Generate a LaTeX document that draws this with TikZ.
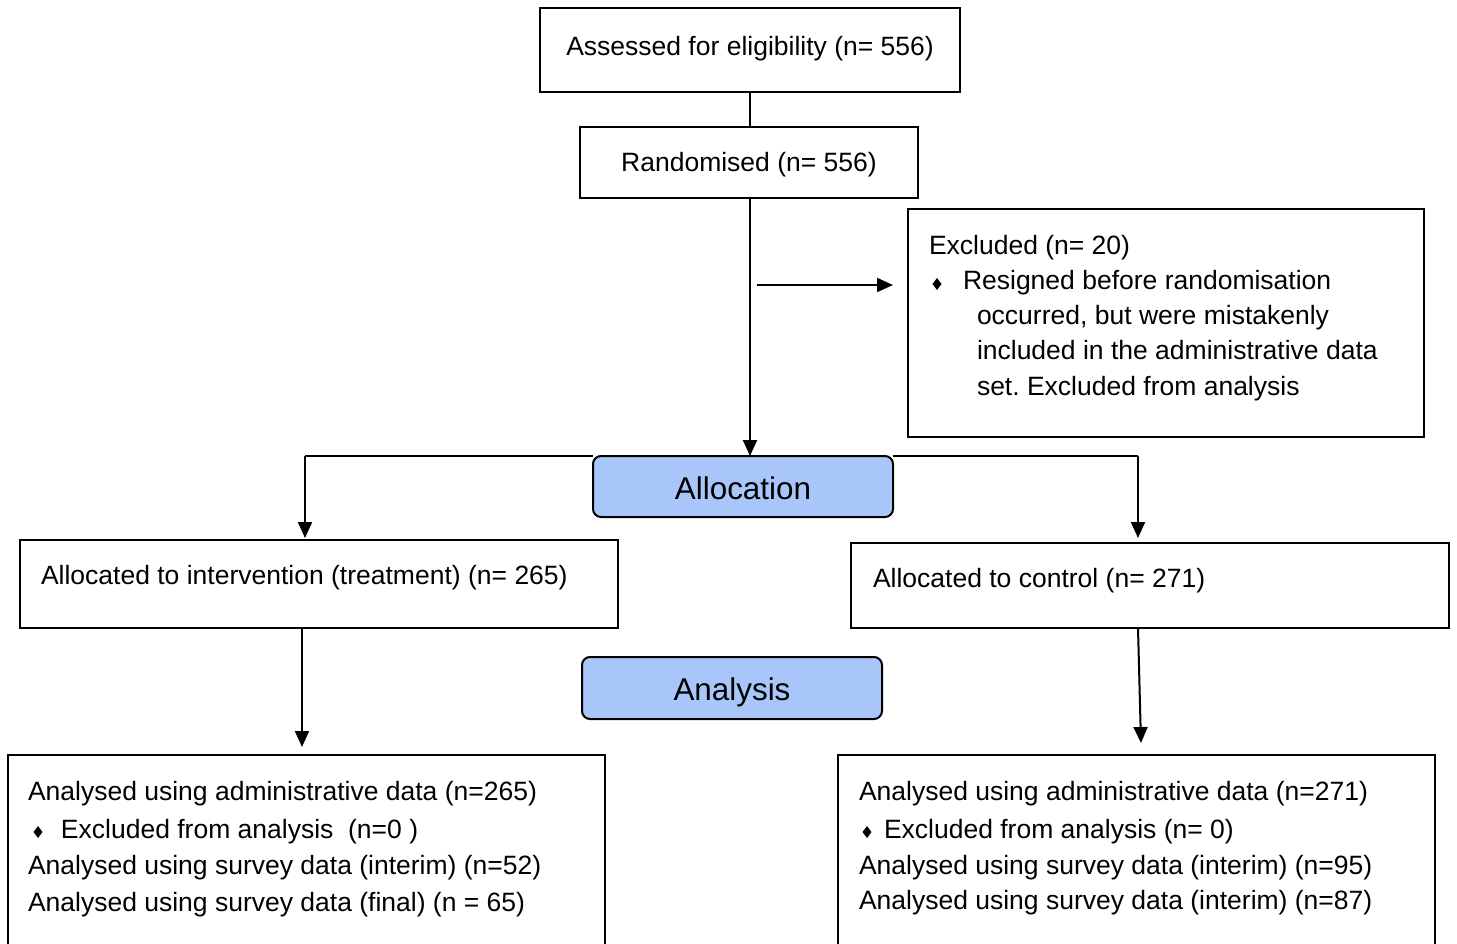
\documentclass[tikz,border=0pt]{standalone}
\usepackage{fontspec}
\setmainfont{Liberation Sans}
\usetikzlibrary{arrows.meta,calc}
\definecolor{allocblue}{RGB}{168,198,250}
\frenchspacing
\tikzset{
  box/.style={draw, line width=1pt, inner sep=0pt, outer sep=0pt},
  txt/.style={anchor=base west, inner sep=0pt, outer sep=0pt, font=\fontsize{13.25pt}{16pt}\selectfont},
  ctxt/.style={anchor=base, inner sep=0pt, outer sep=0pt, font=\fontsize{13.25pt}{16pt}\selectfont},
  stxt/.style={anchor=base, inner sep=0pt, outer sep=0pt, font=\fontsize{15.7pt}{18pt}\selectfont},
  stage/.style={box, fill=allocblue, rounded corners=4pt},
  arr/.style={line width=1pt, -{Triangle[length=8pt,width=7pt]}},
  conn/.style={line width=1pt},
  bul/.pic={\fill (0,-6) -- (4.5,0) -- (0,6) -- (-4.5,0) -- cycle;}
}
\begin{document}
\begin{tikzpicture}[x=0.5pt,y=-0.5pt]
\clip (0,0) rectangle (1457,943);
\fill[white] (0,0) rectangle (1457,943);
% boxes
\node[box, minimum width=210pt, minimum height=42pt] (assess) at (750,50) {};
\node[ctxt] (assessT) at (750,55) {Assessed for eligibility (n= 556)};
\node[box, minimum width=169pt, minimum height=35.5pt] (rand) at (749,162.5) {};
\node[ctxt] (randT) at (749,171) {Randomised (n= 556)};
\node[box, minimum width=258pt, minimum height=114pt] (excl) at (1166,323) {};
\node[txt] (ex1) at (929,254) {Excluded (n= 20)};
\pic at (937,284) {bul};
\node[txt] (ex2) at (963,289) {Resigned before randomisation};
\node[txt] (ex3) at (977,324) {occurred, but were mistakenly};
\node[txt] (ex4) at (977,359) {included in the administrative data};
\node[txt] (ex5) at (977,395) {set. Excluded from analysis};
\node[stage, minimum width=150pt, minimum height=30.5pt] (alloc) at (743,486.5) {};
\node[stxt] (allocT) at (743,499.5) {Allocation};
\node[box, minimum width=299pt, minimum height=44pt] (la) at (319,584) {};
\node[txt] (laT) at (41,584) {Allocated to intervention (treatment) (n= 265)};
\node[box, minimum width=299pt, minimum height=42.5pt] (ra) at (1150,585.5) {};
\node[txt] (raT) at (873,587) {Allocated to control (n= 271)};
\node[stage, minimum width=150pt, minimum height=31pt] (anal) at (732,688) {};
\node[stxt] (analT) at (732,700) {Analysis};
\node[box, minimum width=298.5pt, minimum height=110pt] (lb) at (306.5,865) {};
\node[txt] (lb1) at (28,800) {Analysed using administrative data (n=265)};
\pic at (38,832) {bul};
\node[txt] (lb2) at (61,838) {Excluded from analysis\ \ (n=0 )};
\node[txt] (lb3) at (28,874) {Analysed using survey data (interim) (n=52)};
\node[txt] (lb4) at (28,911) {Analysed using survey data (final) (n = 65)};
\node[box, minimum width=298.5pt, minimum height=110pt] (rb) at (1136.5,865) {};
\node[txt] (rb1) at (859,800) {Analysed using administrative data (n=271)};
\pic at (867,832) {bul};
\node[txt] (rb2) at (884,838) {Excluded from analysis (n= 0)};
\node[txt] (rb3) at (859,874) {Analysed using survey data (interim) (n=95)};
\node[txt] (rb4) at (859,909) {Analysed using survey data (interim) (n=87)};
% connectors
\draw[conn] (assess.south) -- (assess.south |- rand.north);
\draw[arr] (750,198) -- (750,456);
\coordinate (exA) at (757,285);
\coordinate (exB) at (893,285);
\draw[arr] (exA) -- (exB);
\coordinate (cL) at (305,456);
\coordinate (cR) at (1138,456);
\draw[conn] (cL) -- (alloc.north west);
\draw[conn] (alloc.north east) -- (cR);
\draw[arr] (cL) -- (305,538);
\draw[arr] (cR) -- (1138,538);
\draw[arr] (302,628) -- (302,747);
\draw[arr] (1138,628) -- (1141,743);
\end{tikzpicture}
\end{document}
